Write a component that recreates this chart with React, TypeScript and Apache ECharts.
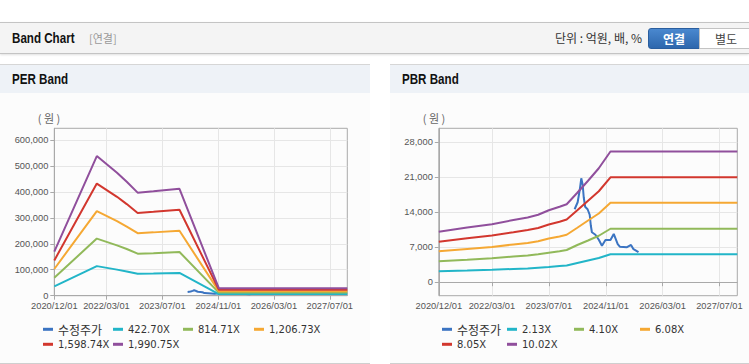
import React, { useEffect, useRef } from "react";
import * as echarts from "echarts";

// ---------- data ----------
const X_TICKS = ["2020/12/01", "2022/03/01", "2023/07/01", "2024/11/01", "2026/03/01", "2027/07/01"];
const X_MIN = "2020/12/01";
const X_MAX = "2027/12/01";

const PER_Y_TICKS = [0, 100000, 200000, 300000, 400000, 500000, 600000];
const PER_Y_MIN = 0;
const PER_Y_MAX = 645000;

const PBR_Y_TICKS = [0, 7000, 14000, 21000, 28000];
const PBR_Y_MIN = -2700;
const PBR_Y_MAX = 30800;

const PRICE_NAME = "수정주가";
const PRICE_DATES = [
  "2024/02/07", "2024/03/04", "2024/03/22", "2024/04/04", "2024/04/16", "2024/04/25",
  "2024/05/07", "2024/05/28", "2024/06/15", "2024/06/25", "2024/07/04", "2024/08/03",
  "2024/09/01", "2024/09/28", "2024/10/28", "2024/12/10", "2025/01/07", "2025/02/10",
  "2025/02/28", "2025/05/01", "2025/06/04", "2025/06/25", "2025/08/07",
];
const PRICE_VALUES = [
  14600, 16000, 18500, 20800, 19500, 17000,
  15100, 14600, 13500, 11300, 10000, 9500,
  8500, 7300, 8460, 8460, 9660, 7600,
  7100, 7000, 7460, 6600, 6000,
];

const PER_NAMES = ["422.70X", "814.71X", "1,206.73X", "1,598.74X", "1,990.75X"];
const PER_DATES = [
  "2020/12/01", "2021/12/07", "2022/06/01", "2022/08/25", "2022/11/28",
  "2023/04/15", "2023/11/28", "2024/11/05", "2027/12/01",
];
const PER_422 = [36000, 114000, 100500, 93000, 84300, 85300, 87500, 6200, 6200];
const PER_814 = [69500, 220000, 194000, 180000, 162000, 164000, 168500, 11900, 11900];
const PER_1206 = [103000, 326000, 287000, 266000, 241000, 244000, 250000, 17600, 17600];
const PER_1598 = [136000, 432000, 381000, 353000, 319000, 323000, 331000, 23300, 23300];
const PER_1990 = [170000, 538000, 474000, 439000, 397000, 402000, 412000, 29000, 29000];

const PBR_NAMES = ["2.13X", "4.10X", "6.08X", "8.05X", "10.02X"];
const PBR_DATES = [
  "2020/12/01", "2021/08/01", "2022/03/01", "2022/09/01", "2023/01/01", "2023/04/01",
  "2023/07/01", "2023/10/01", "2023/12/01", "2024/03/01", "2024/06/01", "2024/09/01",
  "2024/12/10", "2027/12/01",
];
const PBR_213 = [2200, 2350, 2500, 2650, 2750, 2900, 3050, 3250, 3350, 3850, 4350, 4850, 5600, 5600];
const PBR_410 = [4200, 4500, 4800, 5150, 5350, 5600, 5900, 6200, 6450, 7450, 8350, 9300, 10700, 10700];
const PBR_608 = [6200, 6650, 7050, 7550, 7850, 8200, 8750, 9150, 9500, 10900, 12350, 13750, 15900, 15900];
const PBR_805 = [8100, 8800, 9330, 10000, 10450, 10850, 11550, 12100, 12550, 14400, 16300, 18200, 21000, 21000];
const PBR_1002 = [10100, 10950, 11600, 12450, 12950, 13500, 14400, 15100, 15600, 17900, 20300, 22800, 26150, 26150];

// ---------- styles ----------
const COLORS = ["#3b74c2", "#22b5c8", "#91b95a", "#f5a833", "#d2372e", "#904f9c"];
const AXIS_FONT = "'Liberation Sans', Arial, sans-serif";
const LEGEND_FONT = "'DejaVu Sans', Verdana, sans-serif";
const KR_FONT = "'Noto Sans CJK KR', 'Noto Sans', sans-serif";

function toTs(s: string): number {
  const [y, m, d] = s.split(/[\/-]/).map(Number);
  return Date.UTC(y, m - 1, d);
}
function pad(n: number) {
  return n < 10 ? "0" + n : "" + n;
}
function fmtDate(v: number) {
  const d = new Date(v);
  return `${d.getUTCFullYear()}/${pad(d.getUTCMonth() + 1)}/${pad(d.getUTCDate())}`;
}
function fmtNum(v: number) {
  return Math.round(v).toLocaleString("en-US");
}

type LegendPos = { name: string; left: number; top: number };

function buildOption(cfg: {
  gridLeft: number;
  gridWidth: number;
  yMin: number;
  yMax: number;
  yTicks: number[];
  bandNames: string[];
  bandDates: string[];
  bandValues: number[][];
  legend: LegendPos[];
  unitX: number;
}) {
  const xTicks = X_TICKS.map(toTs);
  const axisLineColor = "#a9a9a9";
  const splitColor = "#e6e6e6";
  const series: any[] = [];
  series.push({
    name: PRICE_NAME,
    type: "line",
    symbol: "none",
    silent: true,
    data: PRICE_DATES.map((d, i) => [toTs(d), PRICE_VALUES[i]]),
    lineStyle: { width: 2, color: COLORS[0] },
    itemStyle: { color: COLORS[0] },
    z: 2,
  });
  cfg.bandNames.forEach((n, k) => {
    series.push({
      name: n,
      type: "line",
      symbol: "none",
      silent: true,
      data: cfg.bandDates.map((d, i) => [toTs(d), cfg.bandValues[k][i]]),
      lineStyle: { width: 2, color: COLORS[k + 1] },
      itemStyle: { color: COLORS[k + 1] },
      z: 3 + k,
    });
  });
  return {
    animation: false,
    backgroundColor: "transparent",
    grid: {
      left: cfg.gridLeft,
      top: 35.3,
      width: cfg.gridWidth,
      height: 167.4,
      show: true,
      borderColor: axisLineColor,
      borderWidth: 1,
      backgroundColor: "transparent",
      containLabel: false,
    },
    xAxis: {
      type: "value",
      min: toTs(X_MIN),
      max: toTs(X_MAX),
      axisLine: { show: true, lineStyle: { color: axisLineColor, width: 1 } },
      axisTick: { show: true, length: 4, customValues: xTicks, lineStyle: { color: axisLineColor } },
      axisLabel: {
        customValues: xTicks,
        formatter: (v: number) => fmtDate(v),
        fontSize: 9.3,
        color: "#555",
        fontFamily: AXIS_FONT,
        margin: 6,
        showMinLabel: true,
        showMaxLabel: true,
      },
      splitLine: { show: true, lineStyle: { color: splitColor, width: 1 } },
    },
    yAxis: {
      type: "value",
      min: cfg.yMin,
      max: cfg.yMax,
      axisLine: { show: true, lineStyle: { color: axisLineColor, width: 1 } },
      axisTick: { show: true, length: 4, customValues: cfg.yTicks, lineStyle: { color: axisLineColor } },
      axisLabel: {
        customValues: cfg.yTicks,
        formatter: (v: number) => fmtNum(v),
        fontSize: 9.3,
        color: "#555",
        fontFamily: AXIS_FONT,
        margin: 6,
      },
      splitLine: { show: true, lineStyle: { color: splitColor, width: 1 } },
    },
    legend: cfg.legend.map((it) => ({
      data: [it.name],
      left: it.left,
      top: it.top,
      padding: 0,
      itemGap: 0,
      itemWidth: 10,
      itemHeight: 3,
      icon: "rect",
      selectedMode: false,
      textStyle: {
        fontSize: it.name === PRICE_NAME ? 12 : 10,
        lineHeight: 14,
        fontFamily: it.name === PRICE_NAME ? KR_FONT : LEGEND_FONT,
        color: "#333",
      },
    })),
    graphic: [
      {
        type: "text",
        x: cfg.unitX,
        y: 25,
        silent: true,
        style: {
          text: "( 원 )",
          align: "center",
          verticalAlign: "middle",
          fontSize: 11,
          fontFamily: KR_FONT,
          fill: "#666",
        },
      },
    ],
    series,
  };
}

const PER_LEGEND: LegendPos[] = [
  { name: PRICE_NAME, left: 43, top: 229.3 },
  { name: PER_NAMES[0], left: 113, top: 229.3 },
  { name: PER_NAMES[1], left: 183, top: 229.3 },
  { name: PER_NAMES[2], left: 254, top: 229.3 },
  { name: PER_NAMES[3], left: 43, top: 244.3 },
  { name: PER_NAMES[4], left: 113, top: 244.3 },
];
const PBR_LEGEND: LegendPos[] = [
  { name: PRICE_NAME, left: 52, top: 229.3 },
  { name: PBR_NAMES[0], left: 117, top: 229.3 },
  { name: PBR_NAMES[1], left: 184, top: 229.3 },
  { name: PBR_NAMES[2], left: 250, top: 229.3 },
  { name: PBR_NAMES[3], left: 52, top: 244.3 },
  { name: PBR_NAMES[4], left: 117, top: 244.3 },
];

function Chart({ option, style }: { option: any; style: React.CSSProperties }) {
  const ref = useRef<HTMLDivElement>(null);
  useEffect(() => {
    if (!ref.current) return;
    const chart = echarts.init(ref.current, null, { renderer: "svg" });
    chart.setOption(option);
    return () => chart.dispose();
  }, []);
  return <div ref={ref} style={style} />;
}

const titleText: React.CSSProperties = {
  display: "inline-block",
  fontFamily: "'Liberation Sans', Arial, sans-serif",
  fontWeight: "bold",
  fontSize: 14.5,
  color: "#111",
  transform: "scaleX(0.8)",
  transformOrigin: "left center",
  whiteSpace: "nowrap",
};

export default function App() {
  const perOption = buildOption({
    gridLeft: 54.3,
    gridWidth: 293,
    yMin: PER_Y_MIN,
    yMax: PER_Y_MAX,
    yTicks: PER_Y_TICKS,
    bandNames: PER_NAMES,
    bandDates: PER_DATES,
    bandValues: [PER_422, PER_814, PER_1206, PER_1598, PER_1990],
    legend: PER_LEGEND,
    unitX: 49,
  });
  const pbrOption = buildOption({
    gridLeft: 48.8,
    gridWidth: 298.5,
    yMin: PBR_Y_MIN,
    yMax: PBR_Y_MAX,
    yTicks: PBR_Y_TICKS,
    bandNames: PBR_NAMES,
    bandDates: PBR_DATES,
    bandValues: [PBR_213, PBR_410, PBR_608, PBR_805, PBR_1002],
    legend: PBR_LEGEND,
    unitX: 44,
  });

  const panelHeader: React.CSSProperties = {
    position: "absolute",
    top: 64,
    height: 28,
    background: "#eef2f7",
    borderTop: "1px solid #d6d6d6",
    lineHeight: "28px",
    boxSizing: "content-box",
  };
  const panelBody: React.CSSProperties = {
    position: "absolute",
    top: 93,
    height: 270,
    background: "#fcfcfc",
    borderBottom: "1px solid #cfcfcf",
  };

  return (
    <div
      style={{
        position: "absolute",
        left: 0,
        top: 0,
        width: 749,
        height: 364,
        background: "#fff",
        overflow: "hidden",
        fontFamily: "'Liberation Sans', Arial, sans-serif",
      }}
    >
      {/* top header bar */}
      <div
        style={{
          position: "absolute",
          left: 0,
          top: 22,
          width: 749,
          height: 30,
          background: "#f4f4f4",
          borderTop: "1px solid #c4c4c4",
          borderBottom: "1px solid #c4c4c4",
          boxShadow: "0 1px 2px rgba(0,0,0,0.12)",
        }}
      >
        <span style={{ ...titleText, position: "absolute", left: 12, top: 0, lineHeight: "30px" }}>
          Band Chart
        </span>
        <span
          style={{
            position: "absolute",
            left: 89,
            top: 0,
            lineHeight: "30px",
            fontFamily: KR_FONT,
            fontSize: 11,
            color: "#999",
          }}
        >
          [연결]
        </span>
        <span
          style={{
            position: "absolute",
            right: 107,
            top: 0,
            lineHeight: "30px",
            fontFamily: KR_FONT,
            fontSize: 12,
            color: "#333",
            whiteSpace: "nowrap",
          }}
        >
          단위 : 억원, 배, %
        </span>
        <div
          style={{
            position: "absolute",
            left: 648,
            top: 5,
            width: 50,
            height: 19,
            background: "linear-gradient(#4a88cf, #2d67ad)",
            border: "1px solid #2a5e9e",
            borderRadius: "3px 0 0 3px",
            color: "#fff",
            fontFamily: KR_FONT,
            fontWeight: "bold",
            fontSize: 12,
            lineHeight: "19px",
            textAlign: "center",
            boxSizing: "content-box",
          }}
        >
          연결
        </div>
        <div
          style={{
            position: "absolute",
            left: 699,
            top: 5,
            width: 52,
            height: 19,
            background: "#fff",
            border: "1px solid #c3c3c3",
            borderRadius: "0 3px 3px 0",
            color: "#444",
            fontFamily: KR_FONT,
            fontSize: 12,
            lineHeight: "19px",
            textAlign: "center",
            boxSizing: "content-box",
          }}
        >
          별도
        </div>
      </div>

      {/* PER panel */}
      <div style={{ ...panelHeader, left: 0, width: 370 }}>
        <span style={{ ...titleText, marginLeft: 12 }}>PER Band</span>
      </div>
      <div style={{ ...panelBody, left: 0, width: 370 }} />
      <Chart option={perOption} style={{ position: "absolute", left: 0, top: 93, width: 370, height: 270 }} />

      {/* PBR panel */}
      <div style={{ ...panelHeader, left: 390, width: 359 }}>
        <span style={{ ...titleText, marginLeft: 12 }}>PBR Band</span>
      </div>
      <div style={{ ...panelBody, left: 390, width: 359 }} />
      <Chart option={pbrOption} style={{ position: "absolute", left: 390, top: 93, width: 359, height: 270 }} />
    </div>
  );
}
